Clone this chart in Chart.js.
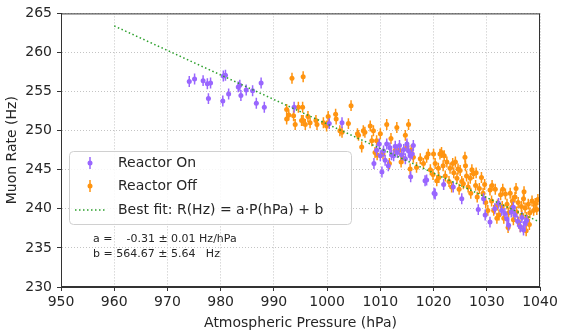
<!DOCTYPE html>
<html>
<head>
<meta charset="utf-8">
<script src="https://cdn.jsdelivr.net/npm/chart.js@4.4.1/dist/chart.umd.min.js"></script>
<style>
  body { margin: 0; background: #fff; }
  canvas { display: block; }
</style>
</head>
<body>
<canvas id="muonChart" width="572" height="336"></canvas>
<script>
// reactor on
var onPressure = [974.1, 975.1, 976.7, 977.5, 978.1, 977.7, 980.4, 980.5, 980.9, 981.5,
  983.3, 983.6, 983.8, 984.8, 986.0, 986.7, 987.6, 988.2, 993.8, 1000.4, 1002.8,
  1008.8, 1009.3, 1009.8, 1010.0, 1010.3, 1010.6, 1010.9, 1011.2, 1011.5, 1011.8,
  1012.1, 1012.5, 1012.8, 1013.2, 1013.6, 1014.0, 1014.4, 1014.7, 1015.0, 1015.3,
  1015.6, 1015.7, 1016.2, 1016.0, 1018.4, 1018.7, 1020.1, 1020.3, 1021.9, 1023.7,
  1025.3, 1028.4, 1029.4, 1029.7, 1030.6, 1031.5, 1032.2, 1032.8, 1033.4, 1034.1,
  1034.6, 1035.3, 1035.8, 1036.3, 1036.6, 1036.9, 1037.2, 1037.5, 1035.0, 1033.8];
var onRate = [256.3, 256.6, 256.4, 256.0, 256.1, 254.1, 253.8, 257.0, 257.1, 254.7,
  255.6, 255.8, 254.5, 255.2, 255.1, 253.5, 256.1, 253.0, 253.0, 250.9, 251.0,
  245.8, 247.5, 248.3, 246.8, 244.7, 247.4, 246.2, 248.3, 245.5, 247.8,
  246.9, 246.8, 248.0, 247.2, 248.1, 246.9, 247.6, 246.4, 248.3, 247.4,
  246.8, 244.1, 248.1, 247.0, 243.6, 243.7, 242.0, 241.9, 243.1, 242.8,
  241.3, 239.9, 241.3, 239.2, 238.3, 240.0, 240.7, 239.8, 239.4, 237.9,
  239.6, 239.2, 238.4, 237.7, 238.9, 237.3, 238.2, 238.5, 240.2, 238.7];

// reactor off
var offPressure = [993.4, 995.5, 992.4, 992.4, 992.8, 993.7, 994.0, 994.6, 995.2, 995.4,
  995.5, 995.9, 996.4, 996.8, 997.9, 998.1, 999.3, 999.9, 1000.2, 1001.6,
  1001.7, 1002.4, 1002.8, 1004.0, 1004.5, 1005.7, 1005.9, 1006.5, 1006.8, 1007.1,
  1008.1, 1008.4, 1008.7, 1009.0, 1009.3, 1009.4, 1010.0, 1011.2, 1012.0, 1013.1,
  1013.6, 1014.7, 1015.3, 1015.0, 1014.2, 1015.6, 1016.2, 1016.8, 1017.5, 1018.1,
  1018.7, 1019.0, 1019.4, 1019.9, 1020.0, 1020.6, 1020.9, 1021.2, 1021.5, 1021.8,
  1022.2, 1022.5, 1022.9, 1023.1, 1023.4, 1023.8, 1024.1, 1024.4, 1024.8, 1025.0,
  1025.3, 1025.9, 1026.2, 1026.5, 1026.9, 1027.2, 1027.5, 1027.9, 1028.2, 1028.6,
  1029.0, 1029.3, 1029.8, 1030.2, 1030.6, 1030.9, 1031.3, 1031.6, 1032.0, 1032.3,
  1032.6, 1032.9, 1033.2, 1033.5, 1033.8, 1034.1, 1034.4, 1034.7, 1035.0, 1035.3,
  1035.6, 1035.9, 1036.3, 1036.6, 1036.9, 1037.2, 1037.5, 1037.8, 1038.1, 1038.5,
  1038.8, 1039.1, 1039.4, 1020.3, 1021.0, 1022.0, 1023.6, 1024.6, 1025.6, 1026.0,
  1027.0, 1028.0, 1029.6, 1031.0, 1031.9, 1033.0, 1034.0, 1035.5, 1036.0, 1037.0,
  1038.0, 1039.6, 1034.8, 1036.5, 1037.4, 1010.5, 1011.7, 1012.8, 1013.9, 1015.8];
var offRate = [256.7, 256.9, 252.7, 251.5, 252.0, 251.9, 250.8, 253.0, 251.3, 253.0,
  251.3, 250.8, 251.8, 251.0, 251.3, 250.8, 251.0, 250.6, 251.8, 252.1,
  251.5, 250.0, 249.8, 250.9, 253.2, 249.6, 249.4, 247.9, 250.0, 249.8,
  250.6, 248.7, 250.0, 247.2, 248.7, 246.9, 249.6, 250.8, 249.0, 250.4,
  247.5, 249.4, 250.8, 248.0, 246.5, 245.1, 246.6, 245.3, 246.4, 245.8,
  246.6, 247.0, 245.0, 244.4, 247.0, 243.6, 245.2, 247.0, 247.2, 245.5,
  244.2, 246.0, 243.5, 245.2, 242.8, 244.6, 246.0, 243.9, 242.5, 244.9,
  243.5, 246.6, 244.2, 242.8, 243.9, 245.0, 244.5, 243.0, 241.5, 242.6,
  244.0, 242.0, 240.8, 239.8, 242.4, 241.0, 239.8, 242.5, 240.5, 239.2,
  241.8, 240.3, 238.8, 241.9, 240.6, 239.5, 242.0, 240.2, 238.6, 241.5,
  239.6, 240.8, 237.7, 239.2, 241.3, 240.1, 238.9, 240.6, 239.5, 241.0,
  239.8, 240.7, 239.9, 245.8, 244.0, 246.8, 245.8, 245.1, 243.2, 245.5,
  242.0, 244.6, 243.1, 243.0, 238.8, 242.5, 237.6, 242.6, 238.3, 242.2,
  238.0, 241.2, 241.0, 240.3, 237.2, 247.0, 245.8, 247.5, 246.0, 247.5];

var rateErr = 0.7;
var pressureErr = 0.35;

// best fit line end points
var fitPressure = [960, 1040];
var fitRate = [263.4, 238.3];

var xTicks = [950, 960, 970, 980, 990, 1000, 1010, 1020, 1030, 1040];
var yTicks = [230, 235, 240, 245, 250, 255, 260, 265];

var purple = '#9966ff';
var orange = '#ff9410';
var green = '#2ca02c';

function pts(xs, ys) {
  return xs.map(function (x, i) { return { x: x, y: ys[i] }; });
}

var errorBars = {
  id: 'errorBars',
  beforeDatasetDraw: function (chart, args) {
    var ds = chart.data.datasets[args.index];
    if (!ds.errorBars) return;
    var ctx = chart.ctx;
    var xs = chart.scales.x, ys = chart.scales.y;
    ctx.save();
    ctx.strokeStyle = ds.backgroundColor;
    ctx.lineWidth = 1.5;
    ctx.beginPath();
    ds.data.forEach(function (p) {
      var px = xs.getPixelForValue(p.x), py = ys.getPixelForValue(p.y);
      ctx.moveTo(px, ys.getPixelForValue(p.y + rateErr));
      ctx.lineTo(px, ys.getPixelForValue(p.y - rateErr));
      ctx.moveTo(xs.getPixelForValue(p.x - pressureErr), py);
      ctx.lineTo(xs.getPixelForValue(p.x + pressureErr), py);
    });
    ctx.stroke();
    ctx.restore();
  },
  afterDraw: function (chart) {
    var ctx = chart.ctx, a = chart.chartArea;
    ctx.save();
    ctx.strokeStyle = '#333';
    ctx.lineWidth = 1;
    ctx.strokeRect(a.left + 0.5, a.top + 0.5, a.right - a.left - 1, a.bottom - a.top - 1);

    // legend box
    var bx = 69.5, by = 151.5, bw = 282, bh = 73;
    ctx.fillStyle = 'rgba(255,255,255,0.85)';
    ctx.strokeStyle = '#d0d0d0';
    ctx.beginPath();
    ctx.roundRect(bx, by, bw, bh, 4);
    ctx.fill();
    ctx.stroke();

    ctx.font = '14px "DejaVu Sans"';
    ctx.textBaseline = 'middle';
    var rows = [163, 186, 210];
    [purple, orange].forEach(function (c, i) {
      ctx.strokeStyle = c;
      ctx.fillStyle = c;
      ctx.lineWidth = 1.5;
      ctx.beginPath();
      ctx.moveTo(90, rows[i] - 6);
      ctx.lineTo(90, rows[i] + 6);
      ctx.stroke();
      ctx.beginPath();
      ctx.arc(90, rows[i], 2.5, 0, Math.PI * 2);
      ctx.fill();
    });
    ctx.strokeStyle = green;
    ctx.lineWidth = 1.5;
    ctx.setLineDash([1.5, 2.5]);
    ctx.beginPath();
    ctx.moveTo(75, rows[2]);
    ctx.lineTo(105, rows[2]);
    ctx.stroke();
    ctx.setLineDash([]);

    ctx.fillStyle = '#262626';
    ctx.fillText('Reactor On', 118, rows[0]);
    ctx.fillText('Reactor Off', 118, rows[1]);
    ctx.fillText('Best fit: R(Hz) = a\u00b7P(hPa) + b', 118, rows[2]);

    ctx.font = '11px "DejaVu Sans"';
    ctx.fillText('a =    -0.31 \u00b1 0.01 Hz/hPa', 93, 239);
    ctx.fillText('b = 564.67 \u00b1 5.64   Hz', 93, 254);
    ctx.restore();
  }
};

Chart.defaults.font.family = '"DejaVu Sans", sans-serif';
Chart.defaults.color = '#262626';

function plainTick(v) { return String(v); }

new Chart(document.getElementById('muonChart'), {
  type: 'scatter',
  data: {
    datasets: [{
      label: 'Best fit',
      type: 'line',
      data: pts(fitPressure, fitRate),
      borderColor: green,
      borderWidth: 1.5,
      borderDash: [1.5, 2.5],
      pointRadius: 0,
      fill: false,
      order: 0
    }, {
      label: 'Reactor On',
      data: pts(onPressure, onRate),
      backgroundColor: purple,
      borderWidth: 0,
      pointRadius: 2.5,
      errorBars: true,
      order: 1
    }, {
      label: 'Reactor Off',
      data: pts(offPressure, offRate),
      backgroundColor: orange,
      borderWidth: 0,
      pointRadius: 2.5,
      errorBars: true,
      order: 2
    }]
  },
  options: {
    responsive: false,
    animation: false,
    layout: { padding: { left: 0, right: 32, top: 12, bottom: 0 } },
    plugins: {
      legend: { display: false },
      tooltip: { enabled: false }
    },
    scales: {
      x: {
        type: 'linear',
        min: 950,
        max: 1040,
        afterBuildTicks: function (s) { s.ticks = xTicks.map(function (v) { return { value: v }; }); },
        afterFit: function (s) { s.height = 49; },
        ticks: { font: { size: 14 }, padding: 3, maxRotation: 0, callback: plainTick },
        grid: { color: '#c4c4c4', tickColor: '#333', tickLength: 4 },
        border: { display: true, color: '#333', dash: [1, 2] },
        title: { display: true, text: 'Atmospheric Pressure (hPa)', font: { size: 14 }, padding: { top: 0, bottom: 4 } }
      },
      y: {
        type: 'linear',
        min: 230,
        max: 265,
        afterBuildTicks: function (s) { s.ticks = yTicks.map(function (v) { return { value: v }; }); },
        afterFit: function (s) { s.width = 61; },
        ticks: { font: { size: 14 }, padding: 5, callback: plainTick },
        grid: { color: '#c4c4c4', tickColor: '#333', tickLength: 4 },
        border: { display: true, color: '#333', dash: [1, 2] },
        title: { display: true, text: 'Muon Rate (Hz)', font: { size: 14 }, padding: { top: 4, bottom: 0 } }
      }
    }
  },
  plugins: [errorBars]
});
</script>
</body>
</html>
